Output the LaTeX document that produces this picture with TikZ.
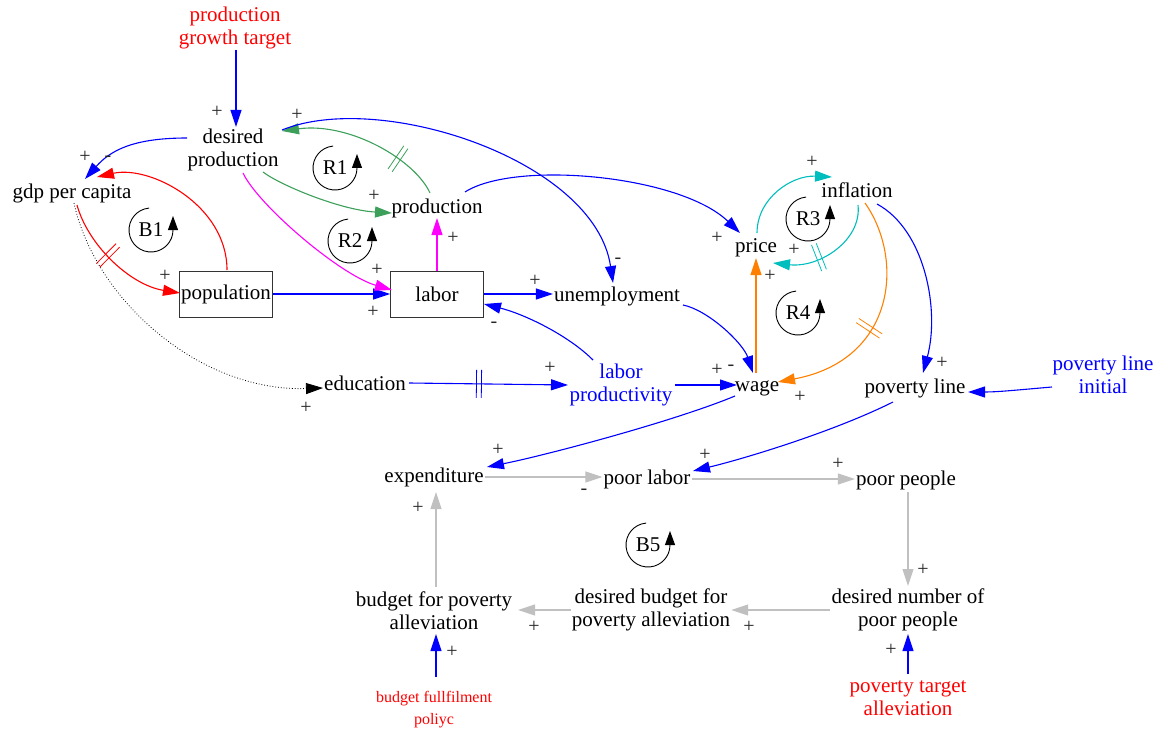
\documentclass[tikz,border=0pt]{standalone}
\usepackage{fontspec}
\setmainfont{Liberation Serif}
\usetikzlibrary{arrows.meta,decorations.markings}
\definecolor{cblue}{RGB}{0,0,255}
\definecolor{cred}{RGB}{255,0,0}
\definecolor{cgreen}{RGB}{60,160,90}
\definecolor{cmag}{RGB}{255,0,255}
\definecolor{ccyan}{RGB}{0,190,190}
\definecolor{corange}{RGB}{255,128,0}
\definecolor{cgray}{RGB}{192,192,192}
\begin{document}
\begin{tikzpicture}[x=1pt,y=-1pt,
  v/.style={font=\fontsize{21}{23}\selectfont, align=center, inner sep=1pt, text=black},
  box/.style={v, draw=black!80, line width=0.8pt, minimum width=93pt, minimum height=46pt},
  small/.style={font=\fontsize{16}{22}\selectfont, align=center, inner sep=1pt},
  lbl/.style={font=\fontsize{20}{20}\selectfont, inner sep=0pt, text=black!85},
  c/.style={line width=1.1pt, -{Triangle[length=17pt,width=11pt]}},
  hashmark/.style={postaction={decorate,decoration={markings,mark=at position #1 with {\draw[-,solid,line width=0.8pt] (-2.5pt,-14pt)--(-2.5pt,14pt) (2.5pt,-14pt)--(2.5pt,14pt);}}}},
  loopsym/.style={line width=0.9pt, black, -{Triangle[length=14pt,width=10pt]}}
]
\useasboundingbox (0,0) rectangle (1162,733);

% nodes
\node[v,text=cred] (pgt) at (235,28) {production\\growth target};
\node[v] (dp) at (233,150) {desired\\production};
\node[v] (gdp) at (72,193) {gdp per capita};
\node[box] (pop) at (226,294) {population};
\node[box] (lab) at (437,294) {labor};
\node[v] (prod) at (437,208) {production};
\node[v] (unemp) at (617,296) {unemployment};
\node[v] (price) at (756,248) {price};
\node[v] (infl) at (857,190) {inflation};
\node[v] (edu) at (365,383) {education};
\node[v,text=cblue] (lp) at (621,385) {labor\\productivity};
\node[v] (wage) at (757,388) {wage};
\node[v] (pl) at (915,388) {poverty line};
\node[v,text=cblue] (pli) at (1103,375) {poverty line\\initial};
\node[v] (exp) at (434,477) {expenditure};
\node[v] (pla) at (647,479) {poor labor};
\node[v] (pp) at (906,480) {poor people};
\node[v] (dnpp) at (908,610) {desired number of\\poor people};
\node[v] (dbpa) at (651,610) {desired budget for\\poverty alleviation};
\node[v] (bpa) at (434,611) {budget for poverty\\alleviation};
\node[small,text=cred] (bfp) at (434,710) {budget fullfilment\\poliyc};
\node[v,text=cred] (pta) at (908,698) {poverty target\\alleviation};

% loop symbols
\foreach \n/\t/\x/\y in {B1/B1/151/230, R1/R1/335/168, R2/R2/350/241, R3/R3/808/219, R4/R4/798/313, B5/B5/648/545}{
  \node[v] (\n) at (\x,\y) {\t};
  \draw[loopsym] ([shift={(95:22pt)}]\n.center) arc[start angle=95,end angle=360,radius=22pt] -- ++(0pt,14pt);
}

% connectors
\draw[c,cblue] ([shift={(1,22)}]pgt.center) -- ([shift={(3,-23)}]dp.center);
\draw[c,cblue] ([shift={(-46,-12)}]dp.center) .. controls +(-55,0) and +(25,-28) .. ([shift={(13,-14)}]gdp.center);
\draw[c,cred] ([shift={(1,-24)}]pop.center) .. controls +(0,-65) and +(53,-12) .. ([shift={(25,-16)}]gdp.center);
\draw[c,cred,hashmark=0.42] ([shift={(5,12)}]gdp.center) .. controls +(11,40) and +(-50,-8) .. ([shift={(-46,-1)}]pop.center);
\draw[c,black,line width=0.8pt,dotted] ([shift={(2,10)}]gdp.center) .. controls +(21,97) and +(-123,4) .. ([shift={(-42,5)}]edu.center);
\draw[c,cblue] (pop.east) -- (pop.east -| lab.west);
\draw[c,cmag] ([shift={(10,23)}]dp.center) .. controls +(15,32) and +(-52,-15) .. ([shift={(-45,-4)}]lab.center);
\draw[c,cgreen] ([shift={(30,22)}]dp.center) .. controls +(17,13) and +(-52,-3) .. ([shift={(-45,5)}]prod.center);
\draw[c,cgreen,hashmark=0.28] ([shift={(-7,-15)}]prod.center) .. controls +(-15,-33) and +(68,-9) .. ([shift={(49,-19)}]dp.center);
\draw[c,cblue] ([shift={(49,-20)}]dp.center) .. controls +(98,-40) and +(-18,-123) .. ([shift={(-4,-13)}]unemp.center);
\draw[c,cmag] (lab.north) -- ([shift={(0,10)}]prod.center);
\draw[c,cblue] ([shift={(28,-16)}]prod.center) .. controls +(50,-32) and +(-60,-58) .. ([shift={(-16,-15)}]price.center);
\draw[c,cblue] (lab.east) -- (lab.east -| unemp.west);
\draw[c,cblue] ([shift={(-28,-25)}]lp.center) .. controls +(-25,-25) and +(40,10) .. ([shift={(47,10)}]lab.center);
\draw[c,cblue] ([shift={(66,9)}]unemp.center) .. controls +(25,5) and +(-10,-30) .. ([shift={(-4,-15)}]wage.center);
\draw[c,cblue,hashmark=0.44] ([shift={(44,0)}]edu.center) -- ([shift={(-53,0)}]lp.center);
\draw[c,cblue] ([shift={(54,0)}]lp.center) -- ([shift={(-20,-3)}]wage.center);
\draw[c,corange] ([shift={(-1,-15)}]wage.center) -- ([shift={(0,10)}]price.center);
\draw[c,ccyan] ([shift={(1,-15)}]price.center) .. controls +(0,-35) and +(-40,-2) .. ([shift={(-25,-13)}]infl.center);
\draw[c,ccyan,hashmark=0.6] ([shift={(1,15)}]infl.center) .. controls +(4,35) and +(47,5) .. ([shift={(17,15)}]price.center);
\draw[c,corange,hashmark=0.55] ([shift={(8,13)}]infl.center) .. controls +(40,57) and +(117,-22) .. ([shift={(21,-6)}]wage.center);
\draw[c,cblue] ([shift={(20,14)}]infl.center) .. controls +(48,26) and +(17,-63) .. ([shift={(8,-15)}]pl.center);
\draw[c,cblue] ([shift={(-51,12)}]pli.center) .. controls +(-35,3) and +(30,0) .. ([shift={(53,4)}]pl.center);
\draw[c,cblue] ([shift={(-22,8)}]wage.center) .. controls +(-60,25) and +(60,-12) .. ([shift={(53,-10)}]exp.center);
\draw[c,cblue] ([shift={(-22,14)}]pl.center) .. controls +(-60,30) and +(50,-12) .. ([shift={(46,-8)}]pla.center);
\draw[c,cgray] (exp.east) -- (exp.east -| pla.west);
\draw[c,cgray] (pla.east) -- (pla.east -| pp.west);
\draw[c,cgray] ([shift={(2,12)}]pp.center) -- ([shift={(0,-24)}]dnpp.center);
\draw[c,cgray] (dnpp.west) -- (dbpa.east);
\draw[c,cgray] (dbpa.west) -- ([shift={(84,-1)}]bpa.center);
\draw[c,cgray] ([shift={(2,-24)}]bpa.center) -- ([shift={(2,15)}]exp.center);
\draw[c,cblue] ([shift={(2,-33)}]bfp.center) -- ([shift={(2,23)}]bpa.center);
\draw[c,cblue] ([shift={(0,-24)}]pta.center) -- ([shift={(0,24)}]dnpp.center);

% polarity labels
\node[lbl] (s1) at (217,112) {+};
\node[lbl] (s2) at (85,157) {+};
\node[lbl] (s3) at (108,159) {-};
\node[lbl] (s4) at (165,276) {+};
\node[lbl] (s5) at (306,408) {+};
\node[lbl] (s6) at (297,115) {+};
\node[lbl] (s7) at (618,261) {-};
\node[lbl] (s8) at (377,270) {+};
\node[lbl] (s9) at (374,196) {+};
\node[lbl] (s10) at (373,312) {+};
\node[lbl] (s11) at (453,238) {+};
\node[lbl] (s12) at (535,281) {+};
\node[lbl] (s13) at (494,325) {-};
\node[lbl] (s14) at (717,238) {+};
\node[lbl] (s15) at (731,368) {-};
\node[lbl] (s16) at (717,370) {+};
\node[lbl] (s17) at (550,368) {+};
\node[lbl] (s18) at (770,276) {+};
\node[lbl] (s19) at (812,162) {+};
\node[lbl] (s20) at (794,250) {+};
\node[lbl] (s21) at (800,397) {+};
\node[lbl] (s22) at (942,363) {+};
\node[lbl] (s23) at (498,450) {+};
\node[lbl] (s24) at (705,455) {+};
\node[lbl] (s25) at (584,492) {-};
\node[lbl] (s26) at (838,464) {+};
\node[lbl] (s27) at (923,570) {+};
\node[lbl] (s28) at (749,627) {+};
\node[lbl] (s29) at (534,627) {+};
\node[lbl] (s30) at (418,508) {+};
\node[lbl] (s31) at (452,652) {+};
\node[lbl] (s32) at (891,650) {+};
\end{tikzpicture}
\end{document}
